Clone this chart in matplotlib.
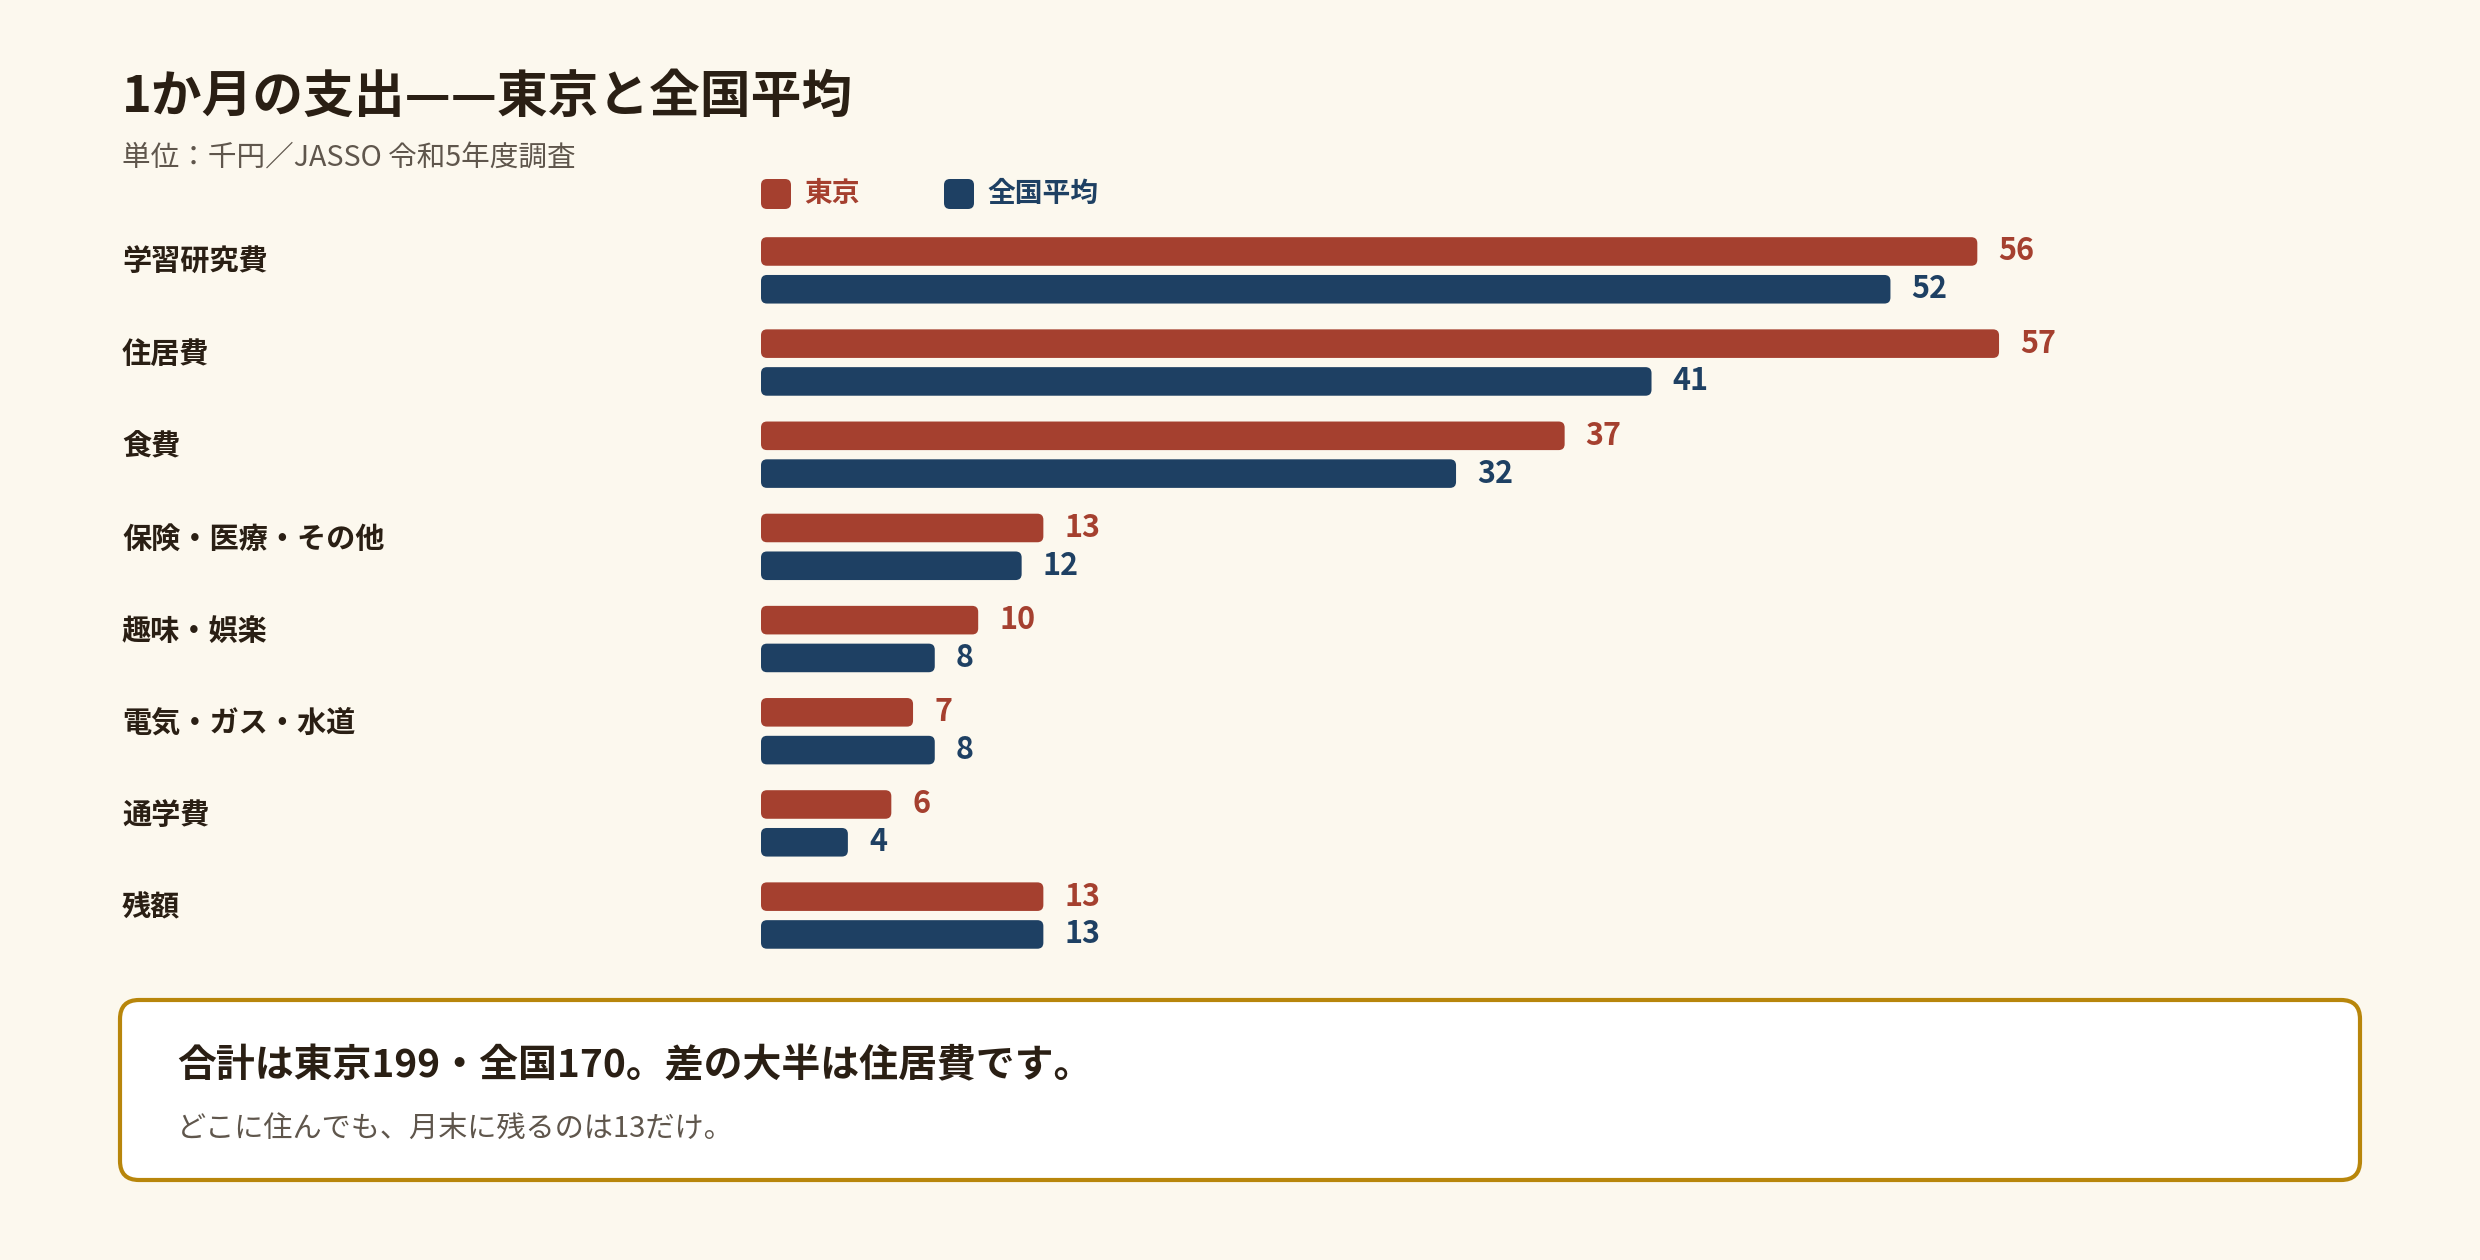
import numpy as np
import matplotlib.pyplot as plt
from matplotlib.patches import FancyBboxPatch
from matplotlib.transforms import blended_transform_factory

plt.rcParams['font.family'] = ['Noto Sans CJK JP', 'DejaVu Sans']

# データ (単位: 千円)
categories = ['学習研究費', '住居費', '食費', '保険・医療・その他',
              '趣味・娯楽', '電気・ガス・水道', '通学費', '残額']
tokyo = [56, 57, 37, 13, 10, 7, 6, 13]
national = [52, 41, 32, 12, 8, 8, 4, 13]
series_names = ['東京', '全国平均']

BG = '#FCF8EE'
RED = '#A5402F'
BLUE = '#1E4063'
DARK = '#2A1F14'
GRAY = '#5F564C'
GOLD = '#B8860B'

W, H = 2480, 1260
fig = plt.figure(figsize=(W / 100, H / 100), dpi=100, facecolor=BG)

# 棒グラフ領域
ax_left, ax_w = 761 / W, 1595 / W
ax = fig.add_axes([ax_left, 0.2368, ax_w, 0.5852])
ax.set_facecolor(BG)
px_per_unit = 21.72
ax.set_xlim(0, ax_w * W / px_per_unit)
ax.set_ylim(len(categories) - 0.5, -0.5)
ax.axis('off')

y = np.arange(len(categories))
bh = 0.31
off = 0.205
unit_px_y = 0.5852 * H / len(categories)
r_x = 6 / px_per_unit
aspect = px_per_unit / unit_px_y

for vals, sign, col in [(tokyo, -1, RED), (national, 1, BLUE)]:
    for yi, v in zip(y, vals):
        yc = yi + sign * off
        p = FancyBboxPatch((0, yc - bh / 2), v, bh,
                           boxstyle=f'round,pad=0,rounding_size={r_x}',
                           mutation_aspect=aspect, fc=col, ec='none')
        ax.add_patch(p)
        ax.annotate(str(v), (v, yc), xytext=(21, 0), textcoords='offset pixels',
                    ha='left', va='center', fontsize=22, fontweight='bold',
                    color=col)

# カテゴリ名
tr = blended_transform_factory(fig.transFigure, ax.transData)
for yi, c in zip(y, categories):
    ax.text(122 / W, yi - 0.09, c, transform=tr, ha='left', va='center',
            fontsize=21, fontweight='bold', color=DARK)

# タイトル
fig.text(122 / W, 1 - 97 / H, '1か月の支出——東京と全国平均', ha='left', va='center',
         fontsize=36.5, fontweight='bold', color=DARK)
fig.text(122 / W, 1 - 159 / H, '単位：千円／JASSO 令和5年度調査', ha='left', va='center',
         fontsize=20.6, color=GRAY)

# 凡例
leg_y = 1 - 194 / H
for x0, name, col in [(761, series_names[0], RED), (944, series_names[1], BLUE)]:
    sq = FancyBboxPatch((x0 / W, leg_y - 15 / H), 30 / W, 30 / H,
                        boxstyle=f'round,pad=0,rounding_size={6 / W}',
                        mutation_aspect=W / H, transform=fig.transFigure,
                        fc=col, ec='none')
    fig.patches.append(sq)
    fig.text((x0 + 43) / W, leg_y, name, ha='left', va='center',
             fontsize=20, fontweight='bold', color=col)

# 下部のまとめボックス
box = FancyBboxPatch((120 / W, 1 - 1180 / H), 2240 / W, 180 / H,
                     boxstyle=f'round,pad=0,rounding_size={19 / W}',
                     mutation_aspect=W / H, transform=fig.transFigure,
                     fc='white', ec=GOLD, lw=3)
fig.patches.append(box)
fig.text(177 / W, 1 - 1066 / H, '合計は東京199・全国170。差の大半は住居費です。',
         ha='left', va='center', fontsize=28, fontweight='bold', color=DARK)
fig.text(177 / W, 1 - 1130 / H, 'どこに住んでも、月末に残るのは13だけ。',
         ha='left', va='center', fontsize=21, color=GRAY)

fig.savefig('out.png', dpi=100, facecolor=BG)
